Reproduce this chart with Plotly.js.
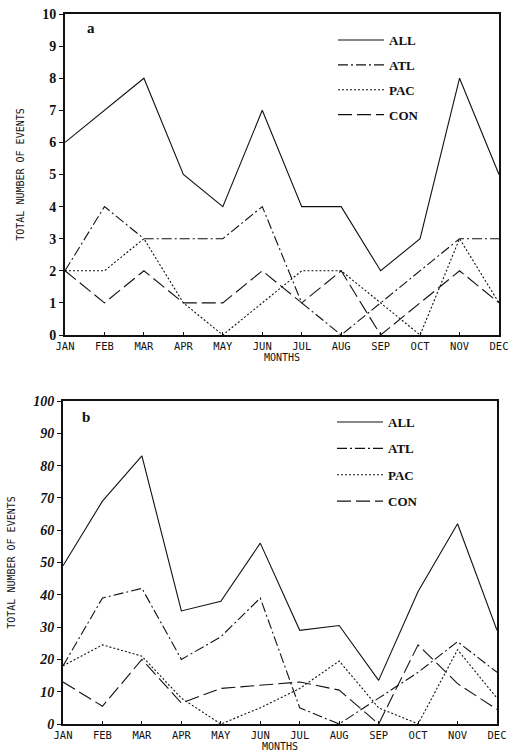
<!DOCTYPE html>
<html><head><meta charset="utf-8">
<script src="https://cdn.plot.ly/plotly-3.0.1.min.js"></script>
<style>html,body{margin:0;padding:0;background:#fff;}#chart{width:509px;height:753px;}</style>
</head><body><div id="chart"></div>
<script>
const months = ["JAN","FEB","MAR","APR","MAY","JUN","JUL","AUG","SEP","OCT","NOV","DEC"];
const seriesNames = ["ALL","ATL","PAC","CON"];
// Panel a
const allA = [6,7,8,5,4,7,4,4,2,3,8,5];
const atlA = [2,4,3,3,3,4,1,0,1,2,3,3];
const pacA = [2,2,3,1,0,1,2,2,1,0,3,1];
const conA = [2,1,2,1,1,2,1,2,0,1,2,1];
// Panel b
const allB = [49,69,83,35,38,56,29,30.5,13.5,41,62,29];
const atlB = [18,39,42,20,27,39,5,0,8,16,25.5,16];
const pacB = [18,24.5,21,8,0,5,11,19.5,5,0,23,8];
const conB = [13,5.5,20,6.5,11,12,13,10.5,0,24.5,12.5,4.5];
const yTicksA = [0,1,2,3,4,5,6,7,8,9,10];
const yTicksB = [0,10,20,30,40,50,60,70,80,90,100];

const dashes = ["solid","10px,3px,2px,3px","2px,2px","14px,5px"];
function mk(vals, i, xa, ya, leg){
  return {x: months, y: vals, type:'scatter', mode:'lines', name: seriesNames[i],
    xaxis: xa, yaxis: ya, legend: leg, legendgroup: leg+i,
    line:{color:'#111', width:1.1, dash: dashes[i]}, hoverinfo:'skip'};
}
const data = [
  mk(allA,0,'x','y','legend'), mk(atlA,1,'x','y','legend'), mk(pacA,2,'x','y','legend'), mk(conA,3,'x','y','legend'),
  mk(allB,0,'x2','y2','legend2'), mk(atlB,1,'x2','y2','legend2'), mk(pacB,2,'x2','y2','legend2'), mk(conB,3,'x2','y2','legend2')
];
const xbase = {type:'category', range:[0,11], showline:true, mirror:true, linewidth:2, linecolor:'#111',
  ticks:'inside', ticklen:3, tickcolor:'#111', showgrid:false, zeroline:false,
  tickfont:{family:'DejaVu Sans Mono', size:10.5, color:'#111'},
  title:{text:'MONTHS', font:{family:'DejaVu Sans Mono', size:10, color:'#111'}, standoff:0}};
const ybase = {showline:true, mirror:true, linewidth:2, linecolor:'#111', ticks:'outside', ticklen:4,
  tickcolor:'#111', showgrid:false, zeroline:false,
  tickfont:{family:'Liberation Serif', size:14, color:'#111', weight:'bold'},
  title:{text:'TOTAL NUMBER OF EVENTS', font:{family:'DejaVu Sans Mono', size:10, color:'#111'}, standoff:16}};
const legbase = {bgcolor:'rgba(0,0,0,0)', itemwidth:46, font:{family:'Liberation Serif', size:13, color:'#111', weight:'bold'},
  xanchor:'left', yanchor:'top'};
const layout = {
  width:509, height:753, margin:{l:0,r:0,t:0,b:0}, paper_bgcolor:'#fff', plot_bgcolor:'#fff', showlegend:true,
  xaxis: Object.assign({}, xbase, {domain:[65/509, 499/509], anchor:'y'}),
  yaxis: Object.assign({}, ybase, {domain:[1-335/753, 1-14/753], range:[0,10], tickvals:yTicksA, anchor:'x'}),
  xaxis2: Object.assign({}, xbase, {domain:[63/509, 497/509], anchor:'y2'}),
  yaxis2: Object.assign({}, ybase, {domain:[1-724/753, 1-401/753], range:[0,100], tickvals:yTicksB, anchor:'x2',
    tickfont:{family:'Liberation Serif', size:14, color:'#111', weight:'bold', style:'italic'}}),
  legend: Object.assign({}, legbase, {x:333/509, y:1-25/753, tracegroupgap:5}),
  legend2: Object.assign({}, legbase, {x:332/509, y:1-407/753, tracegroupgap:6.5}),
  annotations:[
    {text:'a', x:0.045, y:0.955, xref:'x domain', yref:'y domain', showarrow:false, xanchor:'left', yanchor:'middle',
     font:{family:'Liberation Serif', size:15, color:'#111', weight:'bold'}},
    {text:'b', x:0.04, y:0.95, xref:'x2 domain', yref:'y2 domain', showarrow:false, xanchor:'left', yanchor:'middle',
     font:{family:'Liberation Serif', size:15, color:'#111', weight:'bold'}}
  ]
};
Plotly.newPlot('chart', data, layout, {staticPlot:true, displayModeBar:false});
</script></body></html>
